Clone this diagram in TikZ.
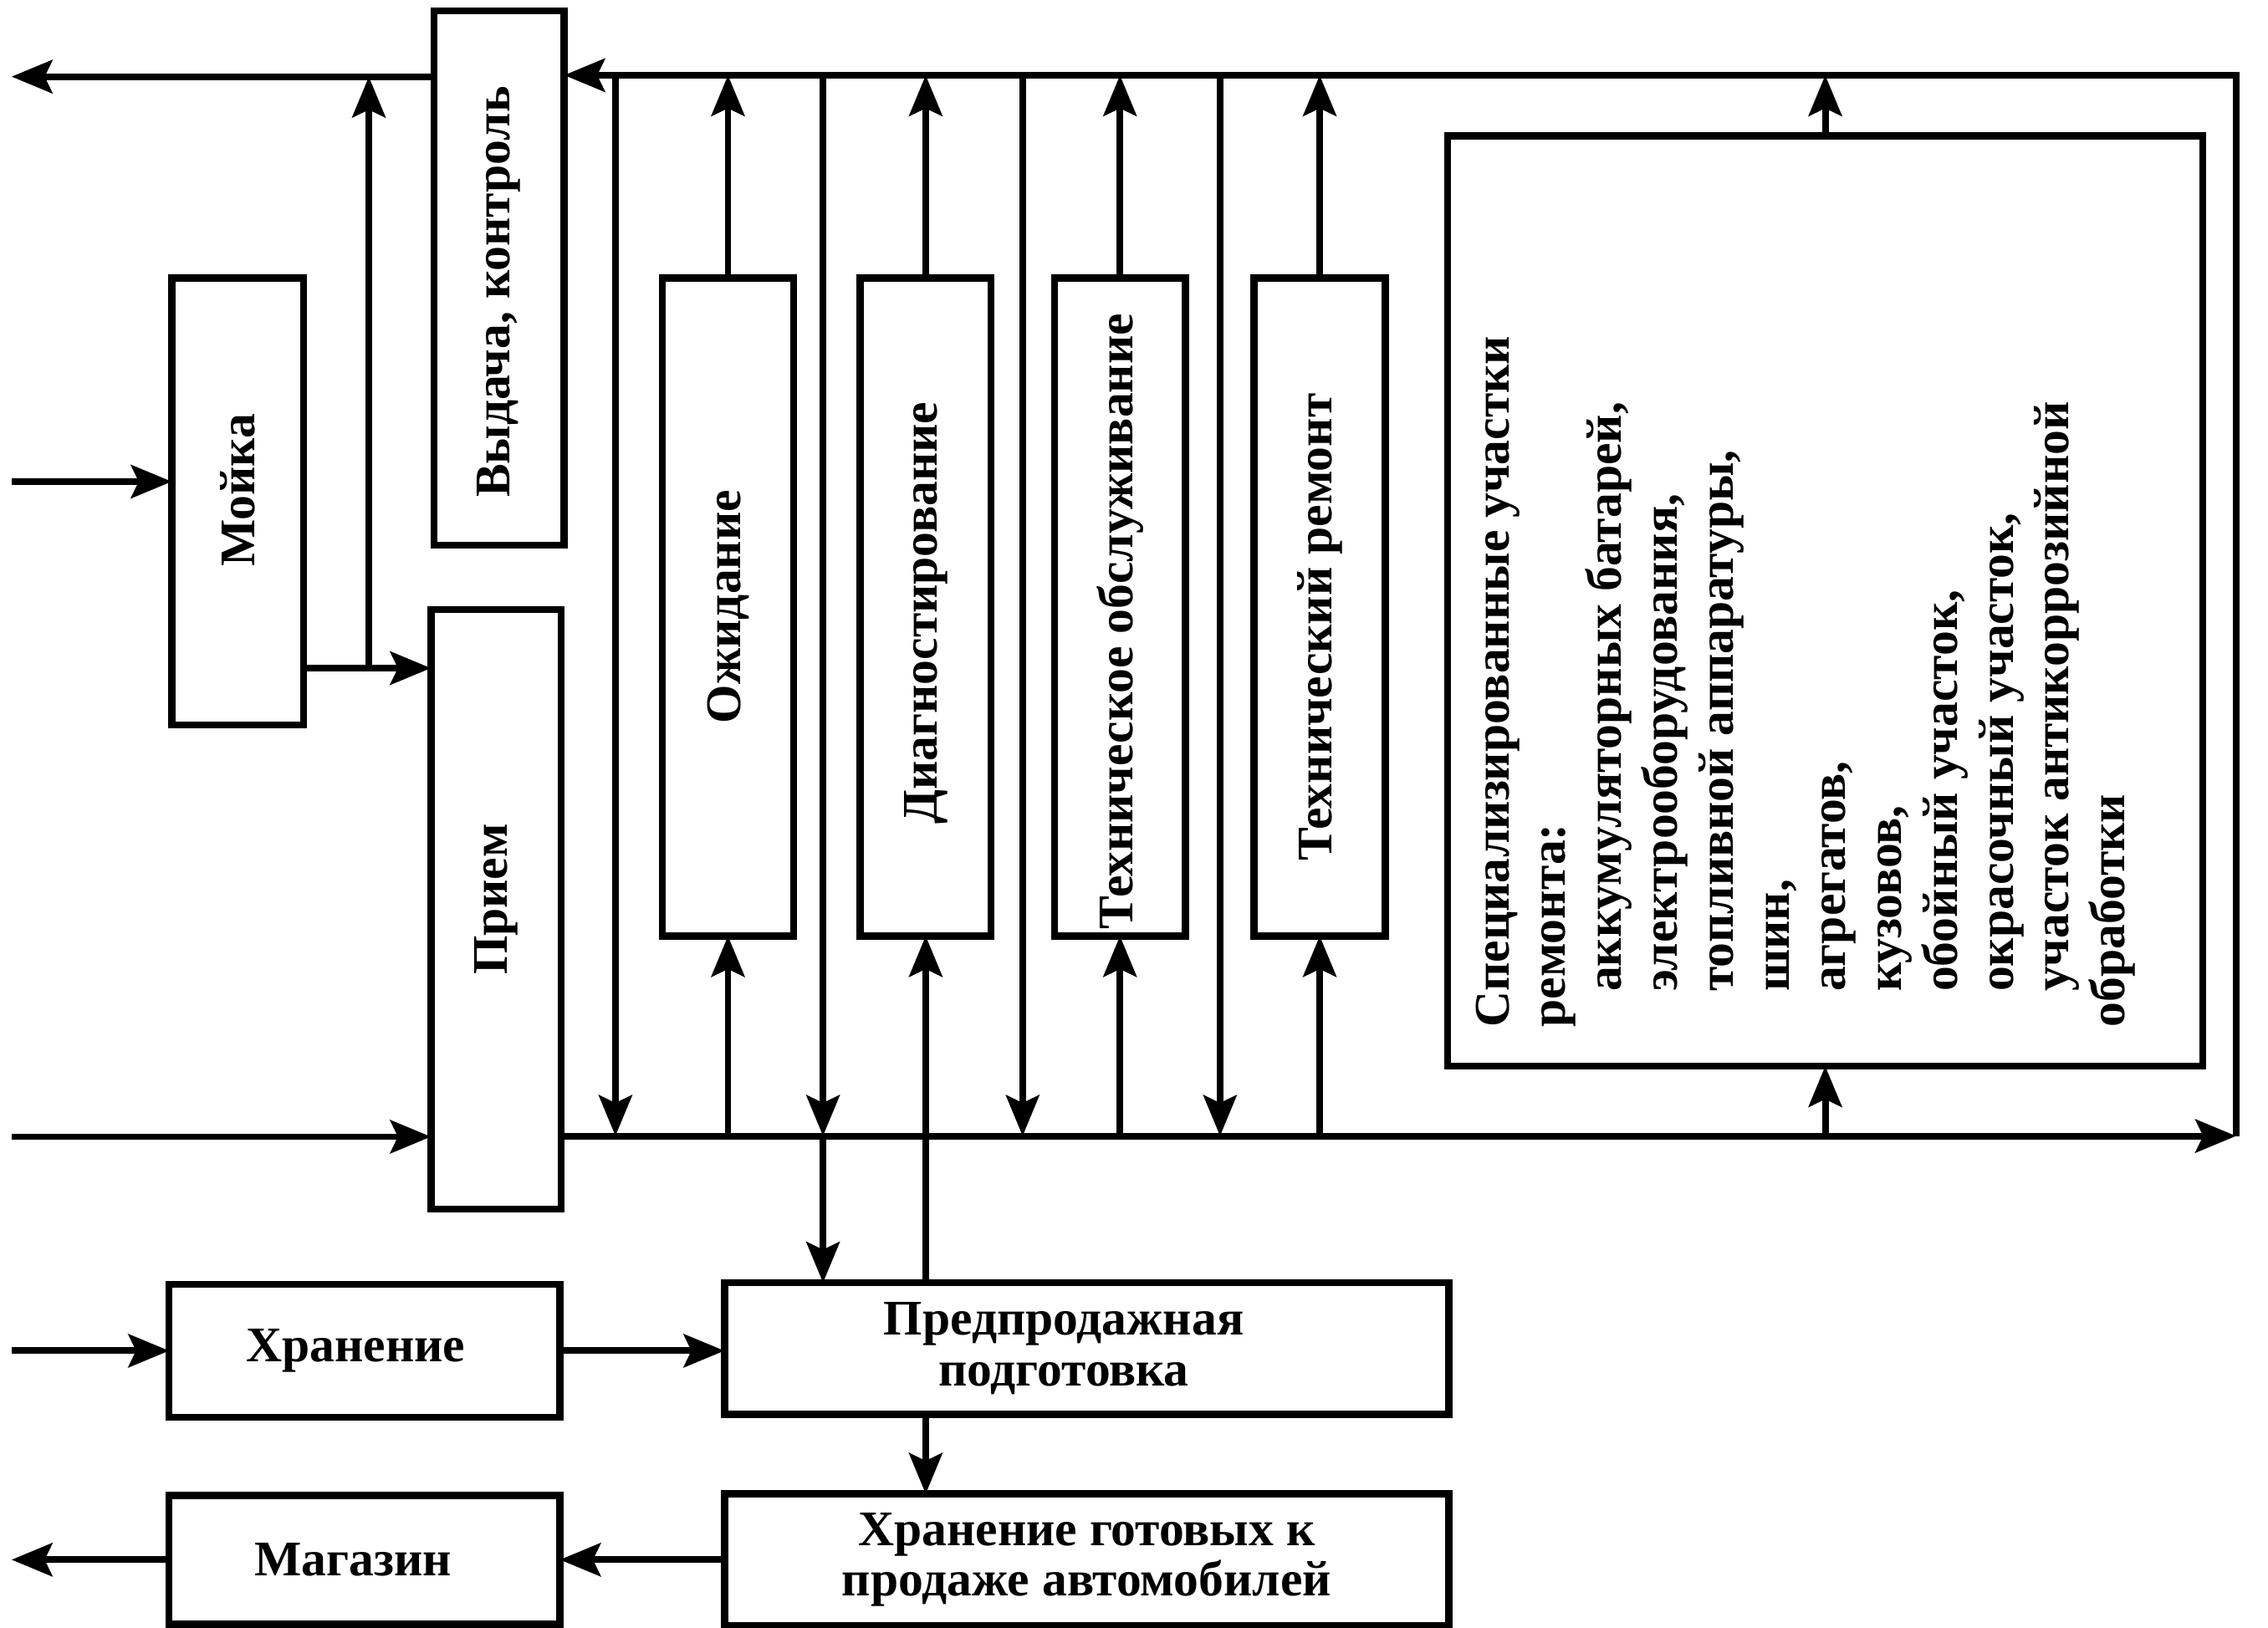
\documentclass[tikz,border=0pt]{standalone}
\usepackage{fontspec}
\setmainfont{Liberation Serif}
\usetikzlibrary{arrows.meta}
\begin{document}
\begin{tikzpicture}[x=0.01cm,y=-0.01cm,
  box/.style={draw,line width=1.4pt,inner sep=0pt,outer sep=0pt,align=center,
    font=\fontsize{9.8}{10}\selectfont\bfseries},
  arr/.style={line width=1.3pt,-{Stealth[length=8pt,width=6.5pt,inset=1.5pt]}},
  ln/.style={line width=1.3pt}]
\useasboundingbox (0,0) rectangle (1568,1125.7);
% boxes
\node[box,minimum width=0.91cm,minimum height=3.087cm] (moika) at (164.3,346.7) {\rotatebox{90}{\hspace*{4.4pt}Мойка}};
\node[box,minimum width=0.90cm,minimum height=3.693cm] (vyd) at (345,192.3) {\rotatebox{90}{Выдача, контроль\hspace*{5.4pt}}};
\node[box,minimum width=0.90cm,minimum height=4.144cm] (priem) at (343,628.8) {\rotatebox{90}{\hspace*{4pt}Прием}};
\node[box,minimum width=0.905cm,minimum height=4.547cm] (ozh) at (503.3,419.7) {\rotatebox{90}{Ожидание}};
\node[box,minimum width=0.904cm,minimum height=4.547cm] (diag) at (640,419.7) {\rotatebox{90}{Диагностирование\hspace*{2.4pt}}};
\node[box,minimum width=0.905cm,minimum height=4.547cm] (tobs) at (774.3,419.7) {\rotatebox{90}{Техническое обслуживание\hspace*{5.7pt}}};
\node[box,minimum width=0.908cm,minimum height=4.547cm] (trem) at (912.4,419.7) {\rotatebox{90}{Технический ремонт\hspace*{8pt}}};
\node[box,minimum width=5.217cm,minimum height=6.43cm] (spec) at (1261.9,415.5) {};
\node[rotate=90,anchor=north west,inner sep=0pt,align=left,font=\fontsize{9.8}{11}\selectfont\bfseries] (spectext) at (1020,711)
 {Специализированные участки\\
  ремонта:\\
  \hspace*{7pt}аккумуляторных батарей,\\
  \hspace*{7pt}электрооборудования,\\
  \hspace*{7pt}топливной аппаратуры,\\
  \hspace*{7pt}шин,\\
  \hspace*{7pt}агрегатов,\\
  \hspace*{7pt}кузовов,\\
  \hspace*{7pt}обойный участок,\\
  \hspace*{7pt}окрасочный участок,\\
  \hspace*{7pt}участок антикоррозийной\\
  обработки};
\node[box,minimum width=2.70cm,minimum height=0.92cm] (hran) at (252,934) {Хранение\hspace*{3.5pt}};
\node[box,minimum width=5.006cm,minimum height=0.91cm] (predp) at (751.3,932.5) {Предпродажная\hspace*{9pt}\\подготовка\hspace*{9pt}};
\node[box,minimum width=5.006cm,minimum height=0.91cm] (hgot) at (751.3,1078.5) {Хранение готовых к\\продаже автомобилей};
\node[box,minimum width=2.70cm,minimum height=0.89cm] (mag) at (252,1078.5) {Магазин\hspace*{4.5pt}};
% coordinates
\coordinate (topR) at (1546,52);
\coordinate (busR) at (1546,785.5);
\coordinate (outTop) at (8,53);
\coordinate (inMoika) at (8,333);
\coordinate (jM) at (255,462);
\coordinate (inPriem) at (8,786);
\coordinate (inHran) at (8,934);
\coordinate (outMag) at (8,1078.5);
\coordinate (d1) at (425.5,52);
\coordinate (d2) at (569,52);
\coordinate (d3) at (707,52);
\coordinate (d4) at (843.5,52);
% connectors
\draw[arr] (vyd.west |- outTop) -- (outTop);
\draw[arr] (inMoika) -- (moika.west |- inMoika);
\draw[ln] (moika.east |- jM) -- (jM);
\draw[arr] (jM) -- (priem.west |- jM);
\draw[arr] (jM) -- (jM |- outTop);
\draw[arr] (inPriem) -- (priem.west |- inPriem);
\draw[arr] (priem.east |- busR) -- (busR);
\draw[arr] (busR) -- (topR) -- (vyd.east |- topR);
\foreach \d in {d1,d2,d3,d4} {\draw[arr] (\d) -- (\d |- busR);}
\draw[arr] (d2 |- busR) -- (d2 |- predp.north);
\foreach \b in {ozh,diag,tobs,trem,spec} {\draw[arr] (\b.north) -- (\b.north |- topR);}
\foreach \b in {ozh,tobs,trem,spec} {\draw[arr] (\b.south |- busR) -- (\b.south);}
\draw[arr] (diag.south |- predp.north) -- (diag.south);
\draw[arr] (inHran) -- (hran.west |- inHran);
\draw[arr] (hran.east) -- (predp.west |- hran.east);
\draw[arr] (diag.south |- predp.south) -- (diag.south |- hgot.north);
\draw[arr] (hgot.west) -- (mag.east |- hgot.west);
\draw[arr] (mag.west) -- (outMag);
\end{tikzpicture}
\end{document}
